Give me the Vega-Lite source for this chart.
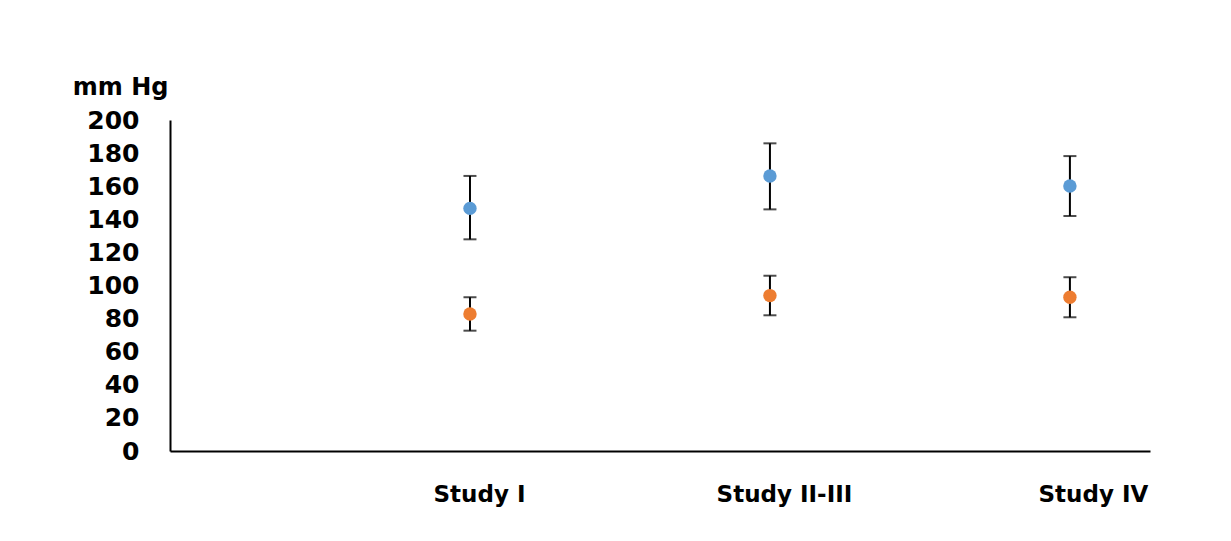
{
  "$schema": "https://vega.github.io/schema/vega-lite/v6.json",
  "width": 980,
  "height": 331,
  "autosize": {"type": "none"},
  "padding": {"left": 170, "top": 120, "right": 81, "bottom": 90},
  "background": "white",
  "config": {"view": {"stroke": null}, "axis": {"labelOverlap": false, "labelFlush": false}},
  "data": {"values": [
    {"study": "Study I", "x": 1, "measure": "Systolic", "mean": 146.6, "lo": 127.9, "hi": 166.2},
    {"study": "Study I", "x": 1, "measure": "Diastolic", "mean": 82.8, "lo": 72.7, "hi": 92.9},
    {"study": "Study II-III", "x": 2, "measure": "Systolic", "mean": 166.2, "lo": 146.0, "hi": 185.9},
    {"study": "Study II-III", "x": 2, "measure": "Diastolic", "mean": 93.9, "lo": 82.0, "hi": 105.9},
    {"study": "Study IV", "x": 3, "measure": "Systolic", "mean": 160.1, "lo": 142.0, "hi": 178.2},
    {"study": "Study IV", "x": 3, "measure": "Diastolic", "mean": 92.9, "lo": 80.8, "hi": 105.0}
  ]},
  "encoding": {
    "x": {
      "field": "x", "type": "quantitative",
      "scale": {"domain": [0, 3.267], "nice": false, "zero": false},
      "axis": {
        "title": null, "values": [1, 2, 3], "grid": false, "ticks": false,
        "domainColor": "black", "domainWidth": 2,
        "labelExpr": "datum.value == 1 ? 'Study I' : datum.value == 2 ? 'Study II-III' : 'Study IV'",
        "labelFont": "DejaVu Sans", "labelFontWeight": "bold", "labelFontSize": 23, "labelColor": "black",
        "labelBaseline": "top", "labelPadding": 32,
        "labelOffset": {"expr": "datum.value == 1 ? 9 : datum.value == 2 ? 14 : 23"},
        "labelFlush": false, "labelOverlap": false
      }
    },
    "y": {"field": "lo", "type": "quantitative",
      "scale": {"domain": [0, 200], "nice": false},
      "axis": {
        "values": [0, 20, 40, 60, 80, 100, 120, 140, 160, 180, 200],
        "grid": false, "ticks": false, "domainColor": "black", "domainWidth": 2,
        "labelFont": "DejaVu Sans", "labelFontWeight": "bold", "labelFontSize": 25, "labelColor": "black",
        "labelPadding": 31, "labelFlush": false, "labelOverlap": false,
        "title": "mm Hg", "titleAngle": 0, "titleAlign": "right", "titleBaseline": "alphabetic",
        "titleAnchor": "end", "titleX": -2, "titleY": -26,
        "titleFont": "DejaVu Sans", "titleFontWeight": "bold", "titleFontSize": 24, "titleColor": "black"
      }
    }
  },
  "layer": [
    {
      "mark": {"type": "rule", "color": "black", "strokeWidth": 2},
      "encoding": {
        "y2": {"field": "hi"}
      }
    },
    {
      "mark": {"type": "tick", "orient": "horizontal", "color": "black", "size": 13, "thickness": 2},
      "encoding": {"y": {"field": "hi", "type": "quantitative"}}
    },
    {
      "mark": {"type": "tick", "orient": "horizontal", "color": "black", "size": 13, "thickness": 2},
      "encoding": {}
    },
    {
      "mark": {"type": "circle", "size": 180, "opacity": 1},
      "encoding": {
        "y": {"field": "mean", "type": "quantitative"},
        "color": {"field": "measure", "type": "nominal",
          "scale": {"domain": ["Systolic", "Diastolic"], "range": ["#5B9BD5", "#ED7D31"]},
          "legend": null}
      }
    }
  ]
}
